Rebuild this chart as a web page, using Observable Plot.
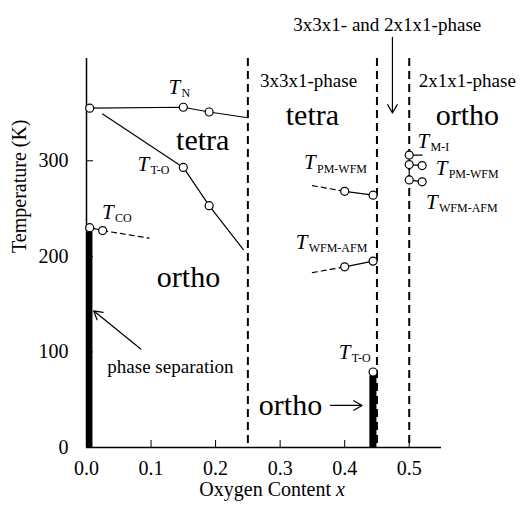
<!DOCTYPE html>
<html><head><meta charset="utf-8">
<script src="https://cdn.jsdelivr.net/npm/d3@7"></script>
<script src="https://cdn.jsdelivr.net/npm/@observablehq/plot@0.6"></script>
<style>body{margin:0;background:#fff} svg text{font-family:'Liberation Serif','Times New Roman',serif;}</style>
</head><body><div id="chart"></div>
<script>
// axis ticks
const xTicks = [0, 0.1, 0.2, 0.3, 0.4, 0.5];
const yTicks = [0, 100, 200, 300];
// phase boundaries (dashed)
const boundaries = [0.25, 0.45, 0.5];

// solid transition lines
const tnX = [0.005, 0.15, 0.19, 0.25];
const tnT = [355, 356, 351, 345];
const ttoX = [0.025, 0.15, 0.19, 0.243];
const ttoT = [349, 293, 253, 207];
const tcoX = [0.005, 0.025];
const tcoT = [230, 227];
const pmMidX = [0.40, 0.444];
const pmMidT = [268, 264];
const wfmMidX = [0.40, 0.444];
const wfmMidT = [189, 195];
const mi1X = [0.5, 0.5];
const mi1T = [306, 280];
const mi2X = [0.5, 0.52];
const mi2T = [306, 306];
const pmRX = [0.5, 0.52];
const pmRT = [296, 295];
const wfmRX = [0.5, 0.52];
const wfmRT = [280, 278];

// dashed extrapolations
const tcoDashX = [0.025, 0.097];
const tcoDashT = [227, 219];
const pmDashX = [0.35, 0.40];
const pmDashT = [274, 268];
const wfmDashX = [0.35, 0.40];
const wfmDashT = [183, 189];

// measured points (open circles)
const pointX = [0.005, 0.15, 0.19, 0.15, 0.19, 0.005, 0.025, 0.40, 0.444, 0.40, 0.444, 0.444, 0.5, 0.5, 0.52, 0.5, 0.52];
const pointT = [355, 356, 351, 293, 253, 230, 227, 268, 264, 189, 195, 79, 306, 296, 295, 280, 278];

// phase-separation bars
const barX1 = [0, 0.439];
const barX2 = [0.01, 0.45];
const barT = [225, 75];

// T labels
const tLabelX = [0.127, 0.079, 0.024, 0.337, 0.324, 0.391, 0.513, 0.541, 0.526];
const tLabelT = [377, 296, 246, 298, 215, 100, 320, 292, 257];
const tLabelSub = ["N", "T-O", "CO", "PM-WFM", "WFM-AFM", "T-O", "M-I", "PM-WFM", "WFM-AFM"];

// phase names
const phaseText = ["tetra", "ortho", "tetra", "ortho"];
const phaseX = [0.18, 0.158, 0.35, 0.59];
const phaseT = [321, 178, 348, 348];

// region labels
const regionText = ["3x3x1-phase", "2x1x1-phase", "3x3x1- and 2x1x1-phase", "phase separation"];
const regionX = [0.344, 0.59, 0.466, 0.13];
const regionT = [384, 384, 442, 84];

// arrows
const arrowX1 = [0.084, 0.474, 0.378];
const arrowT1 = [103, 429, 44];
const arrowX2 = [0.011, 0.474, 0.427];
const arrowT2 = [143, 350, 44];

const orthoBottom = {text: "ortho", x: 0.316, t: 44};

const FONT = "'Liberation Serif', 'Times New Roman', serif";
const toRows = (xs, ts, id) => xs.map((x, i) => ({x, t: ts[i], id}));
const solid = [
  ...toRows(tnX, tnT, "tn"), ...toRows(ttoX, ttoT, "tto"), ...toRows(tcoX, tcoT, "tco"),
  ...toRows(pmMidX, pmMidT, "pm"), ...toRows(wfmMidX, wfmMidT, "wfm"),
  ...toRows(mi1X, mi1T, "mi1"), ...toRows(mi2X, mi2T, "mi2"),
  ...toRows(pmRX, pmRT, "pmr"), ...toRows(wfmRX, wfmRT, "wfmr")
];
const dashed = [
  ...toRows(tcoDashX, tcoDashT, "a"), ...toRows(pmDashX, pmDashT, "b"), ...toRows(wfmDashX, wfmDashT, "c")
];
const points = toRows(pointX, pointT, "p");
const bars = barX1.map((x1, i) => ({x1, x2: barX2[i], t: barT[i]}));
const tLabels = tLabelX.map((x, i) => ({x, t: tLabelT[i], sub: tLabelSub[i]}));
const phases = phaseText.map((s, i) => ({s, x: phaseX[i], t: phaseT[i]}));
const regions = regionText.map((s, i) => ({s, x: regionX[i], t: regionT[i]}));
const arrows = arrowX1.map((x1, i) => ({x1, t1: arrowT1[i], x2: arrowX2[i], t2: arrowT2[i]}));

const chart = Plot.plot({
  width: 522, height: 507,
  marginTop: 58, marginRight: 81, marginBottom: 60, marginLeft: 86,
  style: {fontFamily: FONT, fontSize: "20px", color: "#000", background: "#fff", overflow: "visible"},
  x: {domain: [0, 0.55]},
  y: {domain: [0, 407]},
  marks: [
    Plot.axisX({ticks: xTicks, tickFormat: d3.format(".1f"), tickSize: -7, tickPadding: 20, label: null, fontSize: 20, fontFamily: FONT, fontVariant: "normal"}),
    Plot.axisY({ticks: yTicks, tickFormat: d3.format("d"), tickSize: -7, tickPadding: 25, label: null, fontSize: 20, fontFamily: FONT, fontVariant: "normal"}),
    Plot.ruleX([0], {strokeWidth: 1.5}),
    Plot.ruleY([0], {strokeWidth: 1.5}),
    Plot.ruleX(boundaries, {strokeWidth: 2, strokeDasharray: "8,5"}),
    Plot.rect(bars, {x1: "x1", x2: "x2", y1: 0, y2: "t", fill: "black"}),
    Plot.line(solid, {x: "x", y: "t", z: "id", stroke: "black", strokeWidth: 1.2}),
    Plot.line(dashed, {x: "x", y: "t", z: "id", stroke: "black", strokeWidth: 1.2, strokeDasharray: "5,4"}),
    Plot.dot(points, {x: "x", y: "t", r: 4, fill: "white", stroke: "black", strokeWidth: 1.2}),
    Plot.arrow(arrows, {x1: "x1", y1: "t1", x2: "x2", y2: "t2", stroke: "black", strokeWidth: 1.2, headLength: 12}),
    Plot.text(tLabels, {x: "x", y: "t", text: () => "T", textAnchor: "start", fontStyle: "italic", fontSize: 21, fontFamily: FONT}),
    Plot.text(tLabels, {x: "x", y: "t", text: "sub", textAnchor: "start", dx: 13, dy: 6, fontSize: 12, fontFamily: FONT}),
    Plot.text(phases, {x: "x", y: "t", text: "s", fontSize: 30, fontFamily: FONT}),
    Plot.text([orthoBottom], {x: "x", y: "t", text: "text", fontSize: 30, fontFamily: FONT}),
    Plot.text(regions, {x: "x", y: "t", text: "s", fontSize: 19, fontFamily: FONT}),
    Plot.text(["Temperature (K)"], {frameAnchor: "left", dx: -67, rotate: -90, fontSize: 20, fontFamily: FONT}),
    Plot.text(["Oxygen Content"], {frameAnchor: "bottom", textAnchor: "end", dx: 67, dy: 48, fontSize: 20, fontFamily: FONT}),
    Plot.text(["x"], {frameAnchor: "bottom", textAnchor: "start", dx: 72, dy: 48, fontSize: 20, fontStyle: "italic", fontFamily: FONT})
  ]
});
document.getElementById("chart").appendChild(chart);
</script>
</body></html>
